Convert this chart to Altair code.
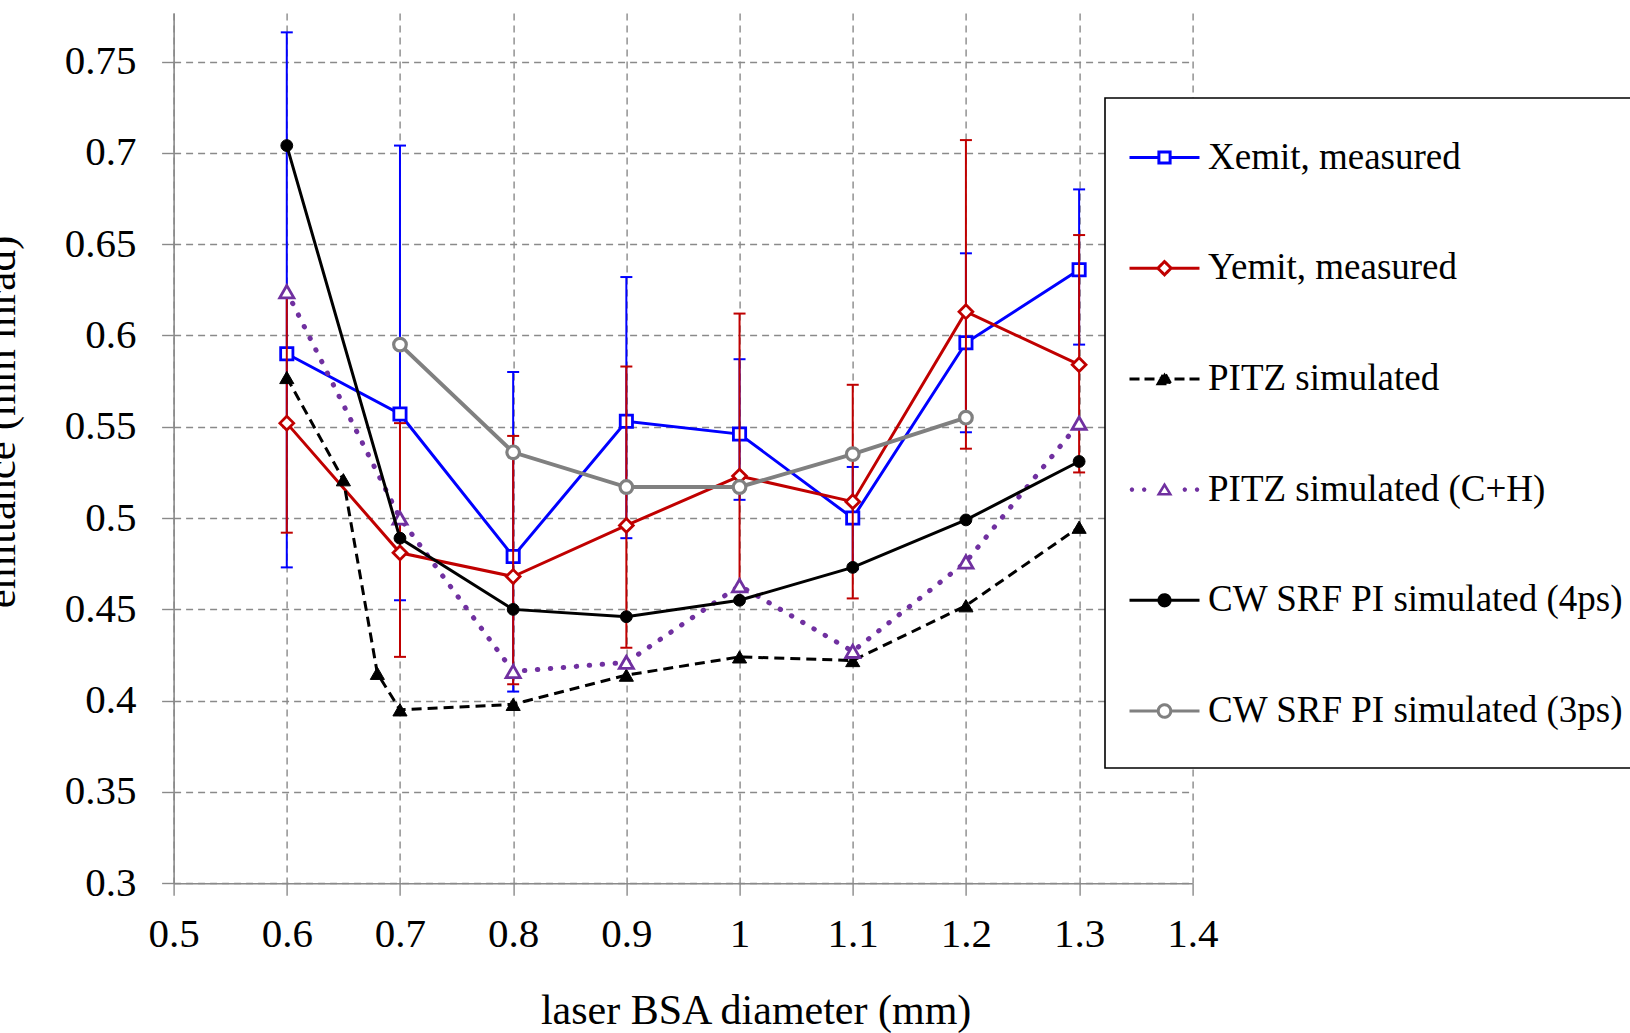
import math
import altair as alt
import pandas as pd

FONT = "Liberation Serif"

# ---------------- data ----------------
SERIES = ["Xemit, measured", "Yemit, measured", "PITZ simulated",
          "PITZ simulated (C+H)", "CW SRF PI simulated (4ps)", "CW SRF PI simulated (3ps)"]

X_MEAS = [0.6, 0.7, 0.8, 0.9, 1.0, 1.1, 1.2, 1.3]
XEMIT = [0.590, 0.557, 0.479, 0.553, 0.546, 0.500, 0.596, 0.636]
XEMIT_LO = [0.473, 0.455, 0.405, 0.489, 0.510, 0.472, 0.547, 0.595]
XEMIT_HI = [0.766, 0.704, 0.580, 0.632, 0.587, 0.528, 0.645, 0.680]

YEMIT = [0.552, 0.481, 0.468, 0.496, 0.523, 0.509, 0.613, 0.584]
YEMIT_LO = [0.492, 0.424, 0.409, 0.429, 0.461, 0.456, 0.538, 0.525]
YEMIT_HI = [0.622, 0.552, 0.545, 0.583, 0.612, 0.573, 0.707, 0.655]

PITZ_X = [0.6, 0.65, 0.68, 0.7, 0.8, 0.9, 1.0, 1.1, 1.2, 1.3]
PITZ = [0.577, 0.521, 0.415, 0.395, 0.398, 0.414, 0.424, 0.422, 0.452, 0.495]

PITZ_CH = [0.624, 0.500, 0.416, 0.421, 0.463, 0.427, 0.476, 0.552]
CW4 = [0.704, 0.489, 0.450, 0.446, 0.455, 0.473, 0.499, 0.531]

CW3_X = [0.7, 0.8, 0.9, 1.0, 1.1, 1.2]
CW3 = [0.595, 0.536, 0.517, 0.517, 0.535, 0.555]

X_TICKS = [0.5, 0.6, 0.7, 0.8, 0.9, 1.0, 1.1, 1.2, 1.3, 1.4]
Y_TICKS = [0.3, 0.35, 0.4, 0.45, 0.5, 0.55, 0.6, 0.65, 0.7, 0.75]

# ---------------- styles ----------------
BLUE = "#0000FF"
RED = "#C00000"
PURPLE = "#7030A0"
GRAY = "#808080"
BLACK = "#000000"
GRID = "#8a8a8a"

W, H = 1018.7, 870.3
PAD = {"left": 173.6, "top": 13, "right": 437.7, "bottom": 149.7}

xs = alt.Scale(domain=[0.5, 1.4], nice=False, zero=False)
ys = alt.Scale(domain=[0.3, 0.7766], nice=False, zero=False)

x_axis = alt.Axis(values=X_TICKS, format="~g", title="laser BSA diameter (mm)",
                  labelPadding=19, labelFlush=False, titleX=582, titleY=139.7,
                  titleAlign="center", titleBaseline="alphabetic", titleFontSize=42)
y_axis = alt.Axis(values=Y_TICKS, format="~g", title="emittance (mm mrad)",
                  labelPadding=25.5, labelFlush=False, titleX=-159, titleY=408.5,
                  titleAngle=270, titleAlign="center", titleBaseline="alphabetic",
                  titleFontSize=43)


def X(f="x"):
    return alt.X(f"{f}:Q", scale=xs, axis=x_axis)


def Y(f="y"):
    return alt.Y(f"{f}:Q", scale=ys, axis=y_axis)


def series_layers(xv, yv, color, line_kw, point_kw, lo=None, hi=None):
    df = pd.DataFrame({"x": xv, "y": yv})
    out = []
    if lo is not None:
        edf = pd.DataFrame({"x": xv, "lo": lo, "hi": hi})
        out.append(alt.Chart(edf).mark_rule(color=color, strokeWidth=2).encode(
            x=X(), y=Y("lo"), y2=alt.Y2("hi:Q")))
        cdf = pd.DataFrame({"x": list(xv) * 2, "y": list(lo) + list(hi)})
        out.append(alt.Chart(cdf).mark_tick(orient="horizontal", size=12, thickness=2,
                                            color=color, opacity=1).encode(x=X(), y=Y()))
    out.append(alt.Chart(df).mark_line(color=color, **line_kw).encode(x=X(), y=Y()))
    out.append(alt.Chart(df).mark_point(opacity=1, **point_kw).encode(x=X(), y=Y()))
    return out


layers = []
layers += series_layers(X_MEAS, XEMIT, BLUE, {"strokeWidth": 3},
                        dict(shape="square", size=150, filled=True, fill="white",
                             stroke=BLUE, strokeWidth=2.8),
                        XEMIT_LO, XEMIT_HI)
layers += series_layers(X_MEAS, YEMIT, RED, {"strokeWidth": 3},
                        dict(shape="diamond", size=190, filled=True, fill="white",
                             stroke=RED, strokeWidth=2.8),
                        YEMIT_LO, YEMIT_HI)
layers += series_layers(PITZ_X, PITZ, BLACK, {"strokeWidth": 3, "strokeDash": [10, 6]},
                        dict(shape="triangle-up", size=200, filled=True, fill=BLACK,
                             stroke=BLACK, strokeWidth=1))
layers += series_layers(X_MEAS, PITZ_CH, PURPLE,
                        {"strokeWidth": 5, "strokeDash": [0.5, 12.5], "strokeCap": "round"},
                        dict(shape="triangle-up", size=200, filled=True, fill="white",
                             stroke=PURPLE, strokeWidth=2.8))
layers += series_layers(X_MEAS, CW4, BLACK, {"strokeWidth": 3},
                        dict(shape="circle", size=140, filled=True, fill=BLACK,
                             stroke=BLACK, strokeWidth=1))
layers += series_layers(CW3_X, CW3, GRAY, {"strokeWidth": 4},
                        dict(shape="circle", size=160, filled=True, fill="white",
                             stroke=GRAY, strokeWidth=3.2))


# ---------------- legend symbols (line + marker as one path, units of 35 px) ----------------
def poly(cx, cy, r, n):
    pts = [(cx + r * math.cos(2 * math.pi * k / n), cy + r * math.sin(2 * math.pi * k / n))
           for k in range(n)]
    return "M" + "L".join(f"{px:.3f},{py:.3f}" for px, py in pts) + "Z"


SPACER = "M0,0.78L0,0.78"
SYM_X = "M-1,0H-0.16M0.16,0H1M-0.16,-0.16H0.16V0.16H-0.16Z" + SPACER
SYM_Y = "M-1,0H-0.19M0.19,0H1M-0.19,0L0,-0.19L0.19,0L0,0.19Z" + SPACER
SYM_P = "M-1,0H1M-0.18,0.14L0,-0.18L0.18,0.14Z" + SPACER
SYM_CH = ("".join(poly(c, 0, 0.065, 8) for c in (-0.93, -0.58, 0.58, 0.93))
          + "M-0.23,0.17L0,-0.21L0.23,0.17Z" + "M-0.1,0.1L0.1,0.1L0,-0.065Z" + SPACER)
SYM_4 = "M-1,0H1" + poly(0, 0, 0.16, 20) + SPACER
SYM_3 = "M-1,0H-0.18M0.18,0H1" + poly(0, 0, 0.18, 20) + SPACER

LEG_STROKE = [BLUE, RED, BLACK, PURPLE, BLACK, GRAY]
LEG_FILL = ["white", "white", BLACK, PURPLE, BLACK, "white"]
LEG_SHAPE = [SYM_X, SYM_Y, SYM_P, SYM_CH, SYM_4, SYM_3]
LEG_DASH = [[1, 0], [1, 0], [10, 5], [0, 1000], [1, 0], [1, 0]]

legend = alt.Legend(title=None, orient="none", legendX=931.4, legendY=85,
                    symbolSize=4900, symbolStrokeWidth=3, symbolOpacity=1,
                    symbolFillColor="white", symbolStrokeColor="black",
                    labelFont=FONT, labelFontSize=37, labelColor="black",
                    labelOffset=7, labelLimit=1000, rowPadding=40.7, padding=23,
                    strokeColor="black", fillColor="white")

leg_df = pd.DataFrame({"series": SERIES})
legend_layer = alt.Chart(leg_df).mark_point(opacity=0, filled=False).encode(
    color=alt.Color("series:N", scale=alt.Scale(domain=SERIES, range=LEG_STROKE), legend=legend),
    fill=alt.Fill("series:N", scale=alt.Scale(domain=SERIES, range=LEG_FILL), legend=legend),
    shape=alt.Shape("series:N", scale=alt.Scale(domain=SERIES, range=LEG_SHAPE), legend=legend),
    strokeDash=alt.StrokeDash("series:N", scale=alt.Scale(domain=SERIES, range=LEG_DASH),
                              legend=legend),
)
layers.append(legend_layer)

chart = alt.layer(*layers).properties(
    width=W, height=H, padding=PAD, autosize=alt.AutoSizeParams(type="none"),
    background="white",
).configure_view(stroke=None).configure_axis(
    domainColor=GRID, domainWidth=1.6, tickColor=GRID, tickSize=12, tickWidth=1.4,
    grid=True, gridColor=GRID, gridDash=[7, 5], gridWidth=1.4,
    labelFont=FONT, labelFontSize=41, labelColor="black",
    titleFont=FONT, titleFontWeight="normal", titleColor="black",
).configure_legend(strokeWidth=1.6)

chart.save("out.html", embed_options={"renderer": "svg", "actions": False})
